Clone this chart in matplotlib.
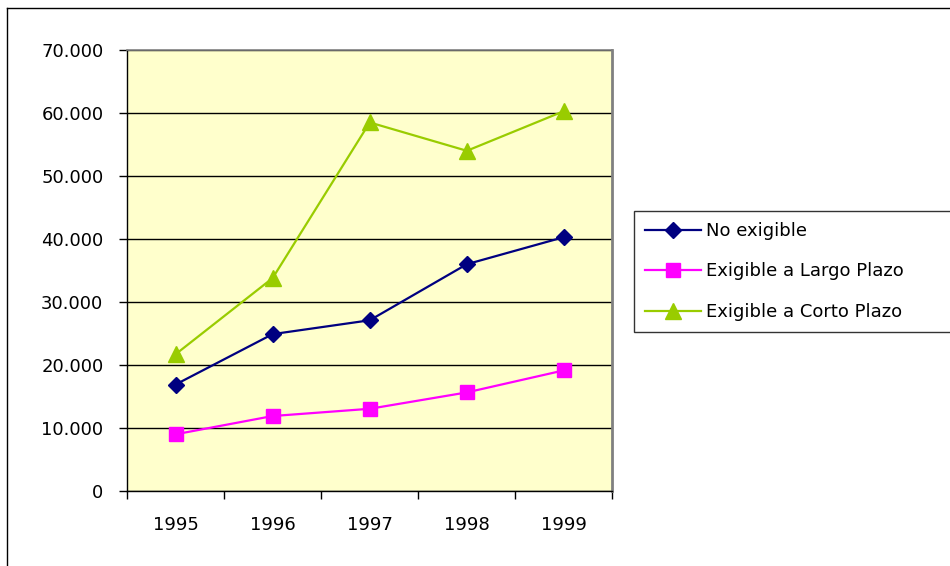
import matplotlib
matplotlib.use("Agg")
import matplotlib.pyplot as plt
from matplotlib.ticker import FuncFormatter, FixedLocator
from matplotlib.lines import Line2D

# data
years = ["1995", "1996", "1997", "1998", "1999"]
no_exigible = [16900, 24900, 27100, 36000, 40300]
largo_plazo = [9000, 11900, 13050, 15650, 19150]
corto_plazo = [21700, 33800, 58500, 54000, 60300]

plt.rcParams["font.family"] = ["DejaVu Sans"]
fs = 13

fig = plt.figure(figsize=(9.5, 5.66), dpi=100)
ax = fig.add_axes([127 / 950, 1 - 491 / 566, 485.5 / 950, 441 / 566])
ax.set_facecolor("#FFFFCC")

x = list(range(len(years)))
ax.plot(x, no_exigible, color="#000080", lw=1.6, marker="D", ms=8,
        label="No exigible", zorder=3)
ax.plot(x, largo_plazo, color="#FF00FF", lw=1.6, marker="s", ms=9.5,
        label="Exigible a Largo Plazo", zorder=3)
ax.plot(x, corto_plazo, color="#99CC00", lw=1.6, marker="^", ms=11,
        label="Exigible a Corto Plazo", zorder=3)

ax.set_xlim(-0.5, len(years) - 0.5)
ax.set_ylim(0, 70000)
ax.set_yticks(range(0, 70001, 10000))
ax.yaxis.set_major_formatter(FuncFormatter(lambda v, p: f"{v:,.0f}".replace(",", ".")))
ax.yaxis.grid(True, color="black", lw=1)
ax.set_axisbelow(True)

# category boundaries as major ticks, year labels on minor ticks
ax.xaxis.set_major_locator(FixedLocator([i - 0.5 for i in range(len(years) + 1)]))
ax.xaxis.set_minor_locator(FixedLocator(x))
ax.set_xticklabels([], minor=False)
ax.set_xticklabels(years, minor=True)
ax.tick_params(axis="x", which="major", length=6, width=1, color="black")
ax.tick_params(axis="x", which="minor", length=0, pad=18, labelsize=fs)
ax.tick_params(axis="y", length=6, width=1, pad=11, labelsize=fs)

for s in ["left", "bottom"]:
    ax.spines[s].set_color("black")
    ax.spines[s].set_linewidth(1)
ax.spines["top"].set_color("#808080")
ax.spines["top"].set_linewidth(1.2)
ax.spines["right"].set_color("#808080")
ax.spines["right"].set_linewidth(2)

leg = ax.legend(loc="upper left",
                bbox_to_anchor=(634 / 950, 1 - 333 / 566, 330 / 950, 122 / 566),
                mode="expand", bbox_transform=fig.transFigure, fontsize=fs,
                frameon=True, fancybox=False, edgecolor="black",
                handlelength=3.1, handletextpad=0.3, labelspacing=1.25,
                borderpad=0.6, borderaxespad=0)
leg.get_frame().set_linewidth(1)

# outer chart frame
fig.add_artist(Line2D([7 / 950, 7 / 950], [0, 1 - 8 / 566], color="black", lw=1))
fig.add_artist(Line2D([7 / 950, 1], [1 - 8 / 566, 1 - 8 / 566], color="black", lw=1))

fig.savefig("out.png", dpi=100)
